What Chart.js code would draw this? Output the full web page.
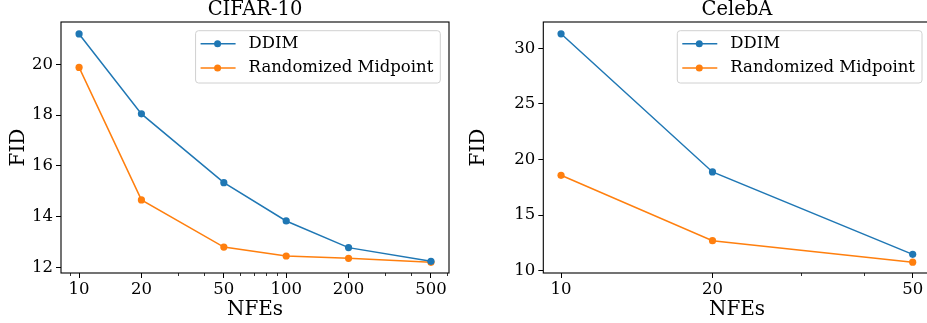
<!DOCTYPE html>
<html>
<head>
<meta charset="utf-8">
<script src="https://cdn.jsdelivr.net/npm/chart.js@4/dist/chart.umd.min.js"></script>
<style>
  html, body { margin: 0; padding: 0; background: #fff; overflow: hidden; }
  #wrap { position: relative; width: 927px; height: 323px; overflow: hidden; }
  .panel { position: absolute; top: 0; height: 323px; }
</style>
</head>
<body>
<div id="wrap">
  <div class="panel" style="left:0;width:460px"><canvas id="cifarChart" width="460" height="323"></canvas></div>
  <div class="panel" style="left:460px;width:480px"><canvas id="celebaChart" width="480" height="323"></canvas></div>
</div>
<script>
// Data
const seriesLabels = ['DDIM', 'Randomized Midpoint'];
const seriesColors = ['#1f77b4', '#ff7f0e'];

const cifarNfes = [10, 20, 50, 100, 200, 500];
const cifarDdim = [21.2, 18.05, 15.34, 13.83, 12.78, 12.24];
const cifarMidpoint = [19.88, 14.66, 12.8, 12.45, 12.36, 12.2];
const cifarXTicks = [10, 20, 50, 100, 200, 500];
const cifarMinorTicks = [9, 30, 40, 60, 70, 80, 90, 300, 400, 600];
const cifarYTicks = [12, 14, 16, 18, 20];

const celebaNfes = [10, 20, 50];
const celebaDdim = [31.31, 18.88, 11.47];
const celebaMidpoint = [18.58, 12.7, 10.76];
const celebaXTicks = [10, 20, 50];
const celebaMinorTicks = [30, 40];
const celebaYTicks = [10, 15, 20, 25, 30];

Chart.defaults.font.family = '"DejaVu Serif", serif';
Chart.defaults.color = '#000';

const LEGEND_FONT = 16.5;

// frame + minor ticks + matplotlib style legend
const decorPlugin = {
    id: 'decor',
    afterDraw(chart, args, opts) {
        const ctx = chart.ctx;
        const area = chart.chartArea;
        const xs = chart.scales.x;
        ctx.save();

        // minor ticks
        ctx.strokeStyle = '#000';
        ctx.lineWidth = 0.8;
        opts.minorTicks.forEach(v => {
            if (v < xs.min || v > xs.max) return;
            const px = Math.round(xs.getPixelForValue(v)) + 0.5;
            ctx.beginPath();
            ctx.moveTo(px, area.bottom);
            ctx.lineTo(px, area.bottom + 3);
            ctx.stroke();
        });

        // axes frame
        ctx.lineWidth = 1.1;
        ctx.strokeRect(area.left, area.top, area.right - area.left, area.bottom - area.top);

        // legend
        ctx.font = LEGEND_FONT + 'px "DejaVu Serif"';
        const tw = Math.max(...chart.data.datasets.map(d => ctx.measureText(d.label).width));
        const w = 53 + tw + 7;
        const h = 52.3;
        const right = area.right - 8.7;
        const top = area.top + 8.7;
        const left = right - w;
        ctx.beginPath();
        ctx.roundRect(left, top, w, h, 3);
        ctx.fillStyle = 'rgba(255,255,255,0.8)';
        ctx.fill();
        ctx.strokeStyle = '#d0d0d0';
        ctx.lineWidth = 1;
        ctx.stroke();

        chart.data.datasets.forEach((d, i) => {
            const y = top + 13 + i * 24.3;
            ctx.strokeStyle = d.borderColor;
            ctx.lineWidth = 1.5;
            ctx.beginPath();
            ctx.moveTo(left + 5, y);
            ctx.lineTo(left + 40, y);
            ctx.stroke();
            ctx.fillStyle = d.borderColor;
            ctx.beginPath();
            ctx.arc(left + 22, y, 3.5, 0, Math.PI * 2);
            ctx.fill();
            ctx.fillStyle = '#000';
            ctx.textBaseline = 'middle';
            ctx.textAlign = 'left';
            ctx.fillText(d.label, left + 53, y);
        });
        ctx.restore();
    }
};

function makeDataset(label, color, xs, ys) {
    return {
        label: label,
        data: xs.map((x, i) => ({ x: x, y: ys[i] })),
        borderColor: color,
        backgroundColor: color,
        borderWidth: 1.5,
        pointRadius: 3.6,
        pointBorderWidth: 0,
        pointBackgroundColor: color,
        tension: 0,
        clip: false
    };
}

function makeChart(id, cfg) {
    return new Chart(document.getElementById(id), {
        type: 'line',
        data: {
            datasets: [
                makeDataset(seriesLabels[0], seriesColors[0], cfg.nfes, cfg.ddim),
                makeDataset(seriesLabels[1], seriesColors[1], cfg.nfes, cfg.midpoint)
            ]
        },
        options: {
            responsive: false,
            animation: false,
            layout: { padding: { left: 0, right: cfg.padRight, top: 0, bottom: 0 } },
            plugins: {
                legend: { display: false },
                tooltip: { enabled: false },
                title: {
                    display: true,
                    text: cfg.title,
                    fullSize: false,
                    font: { size: 19.5, weight: 'normal', lineHeight: 1 },
                    padding: { top: 0, bottom: 2.5 },
                    color: '#000'
                },
                decor: { minorTicks: cfg.minorTicks }
            },
            scales: {
                x: {
                    type: 'logarithmic',
                    bounds: 'data',
                    min: cfg.xMin,
                    max: cfg.xMax,
                    afterBuildTicks: (scale) => { scale.ticks = cfg.xTicks.map(v => ({ value: v })); },
                    afterFit: (scale) => { scale.height = 50; },
                    ticks: {
                        autoSkip: false,
                        maxRotation: 0,
                        padding: 2,
                        font: { size: 16.5 },
                        color: '#000',
                        callback: (v) => String(v)
                    },
                    grid: { drawOnChartArea: false, drawTicks: true, tickLength: 5, tickColor: '#000', tickWidth: 1 },
                    border: { display: false },
                    title: { display: true, text: 'NFEs', font: { size: 20 }, color: '#000', padding: { top: 0, bottom: 1.5 } }
                },
                y: {
                    type: 'linear',
                    bounds: 'data',
                    min: cfg.yMin,
                    max: cfg.yMax,
                    afterBuildTicks: (scale) => { scale.ticks = cfg.yTicks.map(v => ({ value: v })); },
                    afterFit: (scale) => { scale.width = cfg.plotLeft; },
                    ticks: {
                        padding: 3,
                        font: { size: 16.5 },
                        color: '#000',
                        callback: (v) => String(v)
                    },
                    grid: { drawOnChartArea: false, drawTicks: true, tickLength: 5, tickColor: '#000', tickWidth: 1 },
                    border: { display: false },
                    title: { display: true, text: 'FID', font: { size: 20 }, color: '#000', padding: { top: 6.8, bottom: 0 } }
                }
            }
        },
        plugins: [decorPlugin]
    });
}

makeChart('cifarChart', {
    title: 'CIFAR-10',
    nfes: cifarNfes, ddim: cifarDdim, midpoint: cifarMidpoint,
    xTicks: cifarXTicks, minorTicks: cifarMinorTicks, yTicks: cifarYTicks,
    xMin: 8.18, xMax: 611, yMin: 11.78, yMax: 21.67,
    plotLeft: 61, padRight: 11
});

makeChart('celebaChart', {
    title: 'CelebA',
    nfes: celebaNfes, ddim: celebaDdim, midpoint: celebaMidpoint,
    xTicks: celebaXTicks, minorTicks: celebaMinorTicks, yTicks: celebaYTicks,
    xMin: 9.22, xMax: 54.3, yMin: 9.79, yMax: 32.37,
    plotLeft: 83.3, padRight: 9.3
});
</script>
</body>
</html>
